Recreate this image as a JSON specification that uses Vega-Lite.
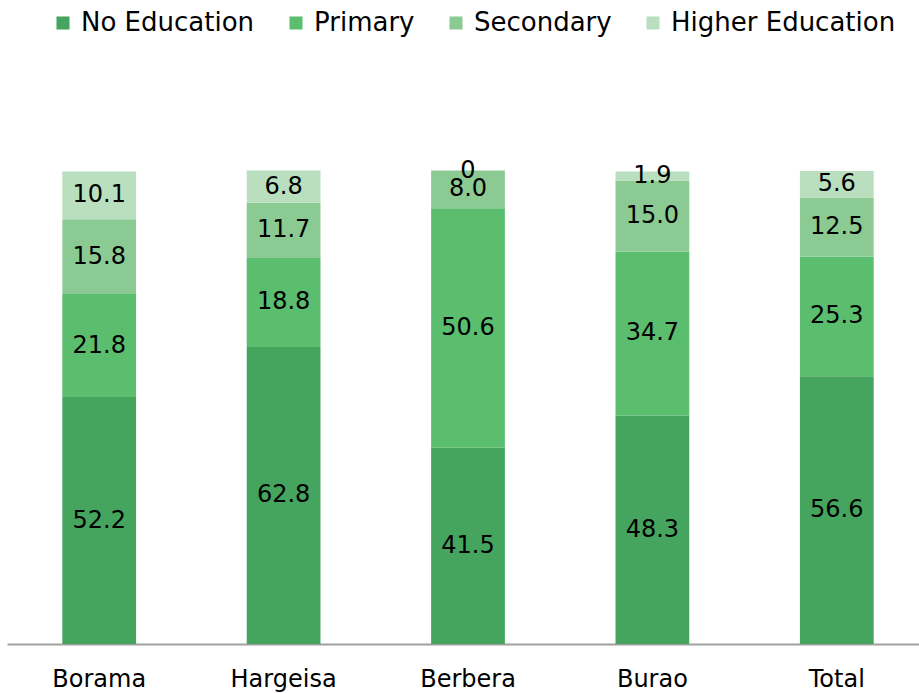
{
  "$schema": "https://vega.github.io/schema/vega-lite/v6.json",
  "width": 922,
  "height": 473,
  "autosize": {"type": "none"},
  "padding": {"left": 7, "top": 171, "right": 0, "bottom": 49},
  "background": "white",
  "config": {"view": {"stroke": null}, "font": "DejaVu Sans"},
  "data": {
    "values": [
      {"city": "Borama", "level": "No Education", "rank": 1, "value": 52.2, "label": "52.2"},
      {"city": "Borama", "level": "Primary", "rank": 2, "value": 21.8, "label": "21.8"},
      {"city": "Borama", "level": "Secondary", "rank": 3, "value": 15.8, "label": "15.8"},
      {"city": "Borama", "level": "Higher Education", "rank": 4, "value": 10.1, "label": "10.1"},
      {"city": "Hargeisa", "level": "No Education", "rank": 1, "value": 62.8, "label": "62.8"},
      {"city": "Hargeisa", "level": "Primary", "rank": 2, "value": 18.8, "label": "18.8"},
      {"city": "Hargeisa", "level": "Secondary", "rank": 3, "value": 11.7, "label": "11.7"},
      {"city": "Hargeisa", "level": "Higher Education", "rank": 4, "value": 6.8, "label": "6.8"},
      {"city": "Berbera", "level": "No Education", "rank": 1, "value": 41.5, "label": "41.5"},
      {"city": "Berbera", "level": "Primary", "rank": 2, "value": 50.6, "label": "50.6"},
      {"city": "Berbera", "level": "Secondary", "rank": 3, "value": 8.0, "label": "8.0"},
      {"city": "Berbera", "level": "Higher Education", "rank": 4, "value": 0, "label": "0"},
      {"city": "Burao", "level": "No Education", "rank": 1, "value": 48.3, "label": "48.3"},
      {"city": "Burao", "level": "Primary", "rank": 2, "value": 34.7, "label": "34.7"},
      {"city": "Burao", "level": "Secondary", "rank": 3, "value": 15.0, "label": "15.0"},
      {"city": "Burao", "level": "Higher Education", "rank": 4, "value": 1.9, "label": "1.9"},
      {"city": "Total", "level": "No Education", "rank": 1, "value": 56.6, "label": "56.6"},
      {"city": "Total", "level": "Primary", "rank": 2, "value": 25.3, "label": "25.3"},
      {"city": "Total", "level": "Secondary", "rank": 3, "value": 12.5, "label": "12.5"},
      {"city": "Total", "level": "Higher Education", "rank": 4, "value": 5.6, "label": "5.6"}
    ]
  },
  "transform": [
    {"stack": "value", "groupby": ["city"], "sort": [{"field": "rank", "order": "ascending"}], "as": ["v0", "v1"]},
    {"calculate": "(datum.v0 + datum.v1) / 2", "as": "mid"}
  ],
  "encoding": {
    "x": {
      "field": "city",
      "type": "nominal",
      "sort": ["Borama", "Hargeisa", "Berbera", "Burao", "Total"],
      "scale": {"paddingInner": 0.6, "paddingOuter": 0.3},
      "axis": {
        "title": null,
        "labelAngle": 0,
        "labelFontSize": 24,
        "labelColor": "#000000",
        "labelPadding": 23,
        "ticks": false,
        "domainColor": "#A0A0A0",
        "domainWidth": 2
      }
    }
  },
  "layer": [
    {
      "mark": {"type": "bar"},
      "encoding": {
        "y": {"field": "v0", "type": "quantitative", "scale": {"domain": [0, 100]}, "axis": null},
        "y2": {"field": "v1"},
        "color": {
          "field": "level",
          "type": "nominal",
          "scale": {
            "domain": ["No Education", "Primary", "Secondary", "Higher Education"],
            "range": ["#45A55E", "#5BBD6E", "#8BCB93", "#B9DFBE"]
          },
          "legend": {
            "title": null,
            "orient": "none",
            "legendX": 43,
            "legendY": -161,
            "direction": "horizontal",
            "symbolType": "square",
            "symbolSize": 170,
            "symbolStrokeWidth": 0,
            "labelFontSize": 26,
            "labelLimit": 0,
            "labelColor": "#000000",
            "labelOffset": 5,
            "columnPadding": 28
          }
        }
      }
    },
    {
      "mark": {"type": "text", "fontSize": 24, "color": "#000000", "baseline": "middle"},
      "encoding": {
        "y": {"field": "mid", "type": "quantitative", "scale": {"domain": [0, 100]}},
        "text": {"field": "label", "type": "nominal"}
      }
    }
  ]
}
